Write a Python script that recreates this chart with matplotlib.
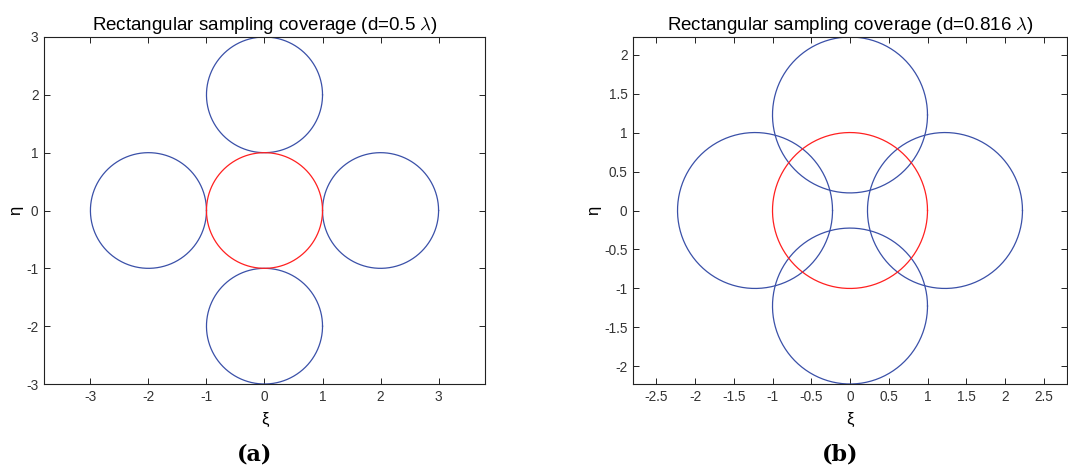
import matplotlib
matplotlib.use('Agg')
matplotlib.rcParams['axes.unicode_minus'] = False
import matplotlib.pyplot as plt
import numpy as np

plt.rcParams['font.family'] = ['Liberation Sans', 'DejaVu Sans']
plt.rcParams['font.size'] = 9.8
plt.rcParams['mathtext.fontset'] = 'cm'

# sample spacing (in wavelengths) for each panel
d_values = [0.5, 0.816]
panel_tags = ['(a)', '(b)']
# centre of the visible region and of the four replicas (units of 1/lambda)
replica_offsets = [2.0, 1.2255]
radius = 1.0
x_ticks = [[-3, -2, -1, 0, 1, 2, 3],
           [-2.5, -2, -1.5, -1, -0.5, 0, 0.5, 1, 1.5, 2, 2.5]]
y_ticks = [[-3, -2, -1, 0, 1, 2, 3],
           [-2, -1.5, -1, -0.5, 0, 0.5, 1, 1.5, 2]]
x_lims = [(-3.8, 3.8), (-2.8, 2.8)]
y_lims = [(-3.0, 3.0), (-2.2255, 2.2255)]

BLUE = '#3a50a8'
RED = '#ff2020'

fig = plt.figure(figsize=(10.68, 4.70), dpi=100)
ax_rects = [[44/1068, 86/470, 441/1068, 347/470],
            [633/1068, 86/470, 434/1068, 347/470]]

theta = np.linspace(0, 2*np.pi, 200)


def fmt(v):
    return f"{v:g}"


for i, d in enumerate(d_values):
    ax = fig.add_axes(ax_rects[i])
    off = replica_offsets[i]
    for cx, cy in [(off, 0), (-off, 0), (0, off), (0, -off)]:
        ax.plot(cx + radius*np.cos(theta), cy + radius*np.sin(theta),
                color=BLUE, lw=0.9)
    ax.plot(radius*np.cos(theta), radius*np.sin(theta), color=RED, lw=0.9)
    ax.set_xlim(*x_lims[i])
    ax.set_ylim(*y_lims[i])
    ax.set_xticks(x_ticks[i])
    ax.set_yticks(y_ticks[i])
    ax.set_xticklabels([fmt(v) for v in x_ticks[i]], color='#333333')
    ax.set_yticklabels([fmt(v) for v in y_ticks[i]], color='#333333')
    ax.tick_params(direction='in', top=True, right=True, length=4,
                   width=0.6, pad=4)
    for s in ax.spines.values():
        s.set_linewidth(0.8)
        s.set_color('#222222')
    ax.set_title(r'Rectangular sampling coverage (d=%g $\lambda$)' % d,
                 fontsize=13.5, pad=5)
    ax.set_xlabel('ξ', fontsize=12, labelpad=6)
    ax.set_ylabel('η', fontsize=12, labelpad=2)
    cx_fig = ax_rects[i][0] + ax_rects[i][2]/2 - 10/1068
    fig.text(cx_fig, 1 - 454/470, panel_tags[i], ha='center', va='center',
             family='DejaVu Serif', fontweight='bold', fontsize=16)

fig.savefig('out.png', dpi=100)
